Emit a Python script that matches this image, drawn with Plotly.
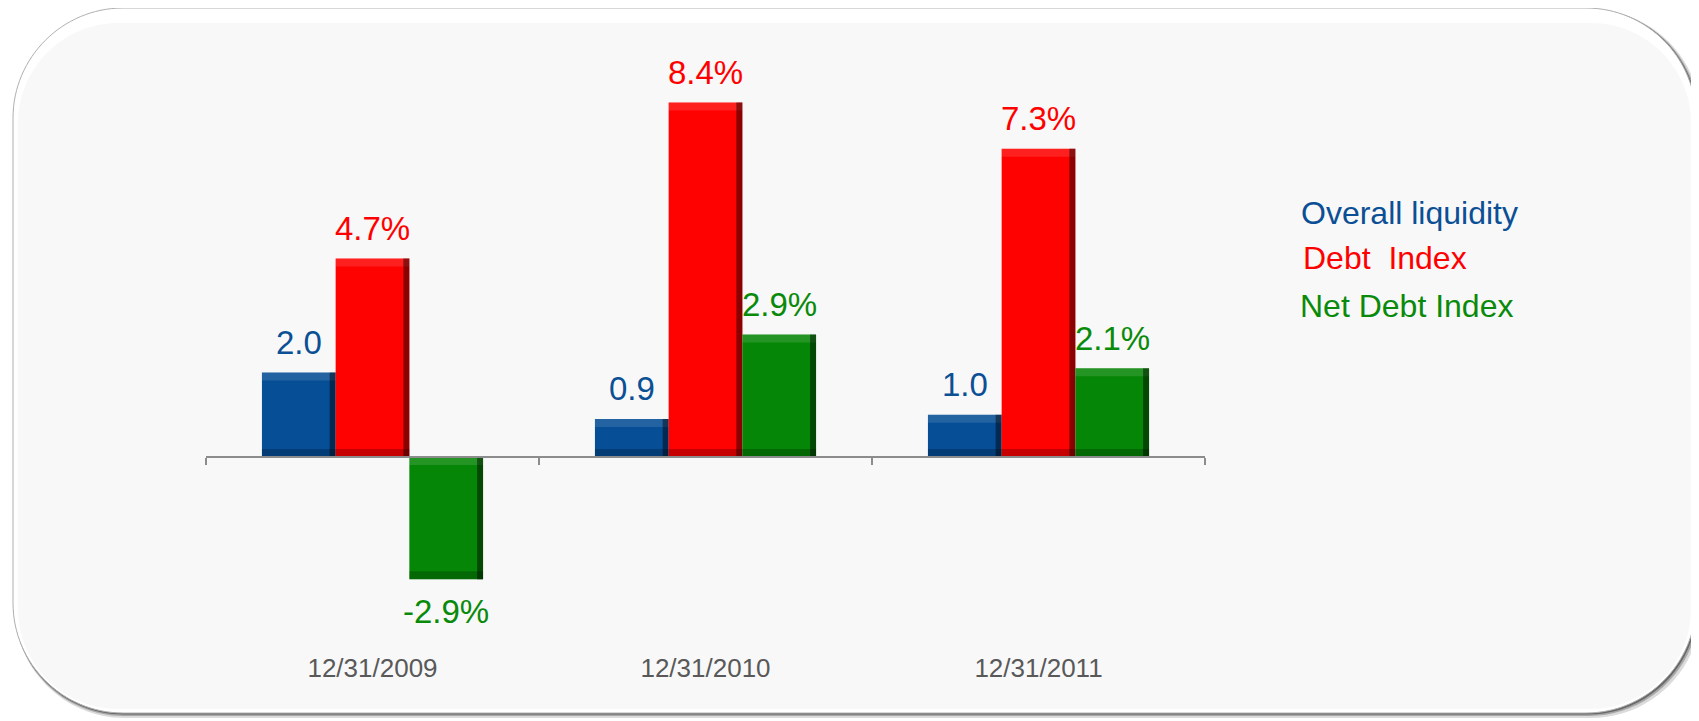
import plotly.graph_objects as go

# ---------------- data ----------------
categories = ["12/31/2009", "12/31/2010", "12/31/2011"]
series_names = ["Overall liquidity", "Debt\u00a0 Index", "Net Debt Index"]
overall_liquidity = [2.0, 0.9, 1.0]
debt_index = [4.7, 8.4, 7.3]
net_debt_index = [-2.9, 2.9, 2.1]
series_values = [overall_liquidity, debt_index, net_debt_index]
label_suffix = ["", "%", "%"]

# ---------------- style ----------------
bar_colors = ["#064e96", "#fe0101", "#068606"]
text_colors = ["#0b4f94", "#ff0000", "#0a8a0a"]
FONT = "Liberation Sans, Arial, sans-serif"

OFF = 8                       # page body margin
W, H = 1699 - OFF, 721 - OFF
ML, MT = 206 - OFF, 56 - OFF
MR = W - (1205 - OFF)
MB = H - (668 - OFF)
PW, PH = W - ML - MR, H - MT - MB
YR = [-5, 9.5]
BARGAP = 0.336
UNIT_PX = PH / (YR[1] - YR[0])


def px_x(px):
    return (px - OFF - ML) / PW


def px_y(py):
    return (H - MB - (py - OFF)) / PH


n_s = len(series_values)
bw = (1 - BARGAP) / n_s            # bar width in category units
strip_top = 8 / UNIT_PX
strip_bot = 8 / UNIT_PX
edge_w = 6 / (PW / len(categories))

fig = go.Figure()
for i, (name, vals, bc) in enumerate(zip(series_names, series_values, bar_colors)):
    off = -n_s * bw / 2 + i * bw
    tops = [max(v, 0) for v in vals]
    bots = [min(v, 0) for v in vals]
    fig.add_trace(go.Bar(x=categories, y=vals, name=name, width=bw, offset=off,
                         marker=dict(color=bc, line=dict(width=0)),
                         showlegend=False, hoverinfo="skip"))
    # bevel: light top, dark bottom, dark right edge
    fig.add_trace(go.Bar(x=categories, y=[strip_top] * len(vals),
                         base=[t - strip_top for t in tops], width=bw, offset=off,
                         marker=dict(color="rgba(255,255,255,0.12)", line=dict(width=0)),
                         showlegend=False, hoverinfo="skip"))
    fig.add_trace(go.Bar(x=categories, y=[strip_bot] * len(vals),
                         base=bots, width=bw, offset=off,
                         marker=dict(color="rgba(0,0,0,0.22)", line=dict(width=0)),
                         showlegend=False, hoverinfo="skip"))
    fig.add_trace(go.Bar(x=categories, y=[t - b for t, b in zip(tops, bots)],
                         base=bots, width=edge_w, offset=off + bw - edge_w,
                         marker=dict(color="rgba(0,0,0,0.45)", line=dict(width=0)),
                         showlegend=False, hoverinfo="skip"))

# data labels
bar_px = PW / len(categories) * bw
annotations = []
for i, (vals, tc, suf) in enumerate(zip(series_values, text_colors, label_suffix)):
    for c, v in zip(categories, vals):
        annotations.append(dict(
            x=c, y=v, xref="x", yref="y",
            text=f"{v:.1f}{suf}", showarrow=False,
            xshift=(i - (n_s - 1) / 2) * bar_px,
            yshift=30 if v >= 0 else -32,
            yanchor="middle", xanchor="center",
            font=dict(family=FONT, size=33, color=tc),
        ))

# legend as text
legend_y = [213, 258, 306]
legend_x = [1299, 1301, 1298]
for name, tc, lx, ly in zip(series_names, text_colors, legend_x, legend_y):
    annotations.append(dict(
        x=px_x(lx), y=px_y(ly), xref="paper", yref="paper",
        text=name, showarrow=False, xanchor="left", yanchor="middle",
        font=dict(family=FONT, size=32, color=tc),
    ))


def rrect(x0, y0, x1, y1, r):
    k = 0.45
    pts = [
        ("M", [(x0 + r, y0)]),
        ("L", [(x1 - r, y0)]),
        ("C", [(x1 - r * k, y0), (x1, y0 + r * k), (x1, y0 + r)]),
        ("L", [(x1, y1 - r)]),
        ("C", [(x1, y1 - r * k), (x1 - r * k, y1), (x1 - r, y1)]),
        ("L", [(x0 + r, y1)]),
        ("C", [(x0 + r * k, y1), (x0, y1 - r * k), (x0, y1 - r)]),
        ("L", [(x0, y0 + r)]),
        ("C", [(x0, y0 + r * k), (x0 + r * k, y0), (x0 + r, y0)]),
    ]
    s = ""
    for cmd, ps in pts:
        s += cmd + " " + " ".join(f"{px_x(a):.5f},{px_y(b):.5f}" for a, b in ps) + " "
    return s + "Z"


shapes = []
# shadow layers
for d, alpha in [(5, 0.14), (3, 0.24), (1.5, 0.38)]:
    shapes.append(dict(type="path", xref="paper", yref="paper", layer="below",
                       path=rrect(13 + d * 0.3, 8 + d * 0.3, 1696 + d, 713 + d, 110),
                       fillcolor=f"rgba(0,0,0,{alpha})", line=dict(width=0)))
shapes.append(dict(type="path", xref="paper", yref="paper", layer="below",
                   path=rrect(13, 8, 1696, 713, 110),
                   fillcolor="#ffffff", line=dict(color="#b0b0b0", width=1)))
shapes.append(dict(type="path", xref="paper", yref="paper", layer="below",
                   path=rrect(18, 23, 1691, 709, 100),
                   fillcolor="#f8f8f8", line=dict(width=0)))

fig.update_layout(
    width=W, height=H,
    margin=dict(l=ML, r=MR, t=MT, b=MB, pad=0),
    paper_bgcolor="#ffffff", plot_bgcolor="rgba(0,0,0,0)",
    barmode="overlay",
    annotations=annotations, shapes=shapes,
    showlegend=False,
    font=dict(family=FONT),
)
fig.update_yaxes(range=YR, visible=False, showgrid=False, zeroline=False, fixedrange=True)
fig.update_xaxes(
    type="category", range=[-0.5, len(categories) - 0.5], anchor="free",
    position=(0 - YR[0]) / (YR[1] - YR[0]),
    showline=True, linecolor="#8c8c8c", linewidth=1.5,
    ticks="outside", tickson="boundaries", ticklen=7, tickwidth=1.5, tickcolor="#8c8c8c",
    showgrid=False, zeroline=False,
    tickfont=dict(family=FONT, size=26, color="#595959"),
    ticklabelstandoff=188,
)

fig.write_html("out.html")
